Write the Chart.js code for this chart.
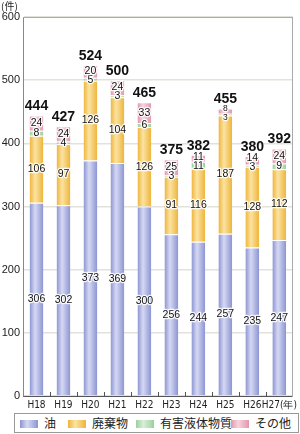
<!DOCTYPE html>
<html>
<head>
<meta charset="utf-8">
<script src="https://cdn.jsdelivr.net/npm/chart.js@4"></script>
<style>
  html, body { margin: 0; padding: 0; background: #fff; }
  #wrap { position: relative; width: 300px; height: 434px; }
  #chart-wrap { position: absolute; left: 0; top: 0; width: 300px; height: 412px; }
  #legend {
    position: absolute; left: 14px; top: 413px; width: 283px; height: 18px;
    border: 1px solid #999; box-sizing: content-box;
    font-family: "Noto Sans CJK JP", sans-serif; font-size: 12px; color: #222;
  }
  .item { position: absolute; top: 0; height: 18px; line-height: 18px; white-space: nowrap; }
  .sw { display: inline-block; width: 18px; height: 8px; vertical-align: middle; margin-right: 6px; margin-top: -2px; }
</style>
</head>
<body>
<div id="wrap">
  <div id="chart-wrap"><canvas id="chart"></canvas></div>
  <div id="legend"></div>
</div>
<script>
// === data ===
const years = ['H18', 'H19', 'H20', 'H21', 'H22', 'H23', 'H24', 'H25', 'H26', 'H27(年)'];
const oil = [306, 302, 373, 369, 300, 256, 244, 257, 235, 247];
const waste = [106, 97, 126, 104, 126, 91, 116, 187, 128, 112];
const hazardous = [8, 4, 5, 3, 6, 3, 11, 3, 3, 9];
const others = [24, 24, 20, 24, 33, 25, 11, 8, 14, 24];
const totals = [444, 427, 524, 500, 465, 375, 382, 455, 380, 392];
const yTicks = [0, 100, 200, 300, 400, 500, 600];

const seriesNames = ['油', '廃棄物', '有害液体物質', 'その他'];
// edge / light colours for the bar gradients
const palette = [
  ['#8b94d2', '#d6d9f3'],
  ['#eeb43a', '#fbe3a2'],
  ['#9bcf9d', '#daefda'],
  ['#e297ad', '#f7d4de'],
];
const BAR_PCT = 0.51;

function barGradient(idx) {
  return (c) => {
    const chart = c.chart;
    const [edge, light] = palette[idx];
    if (!chart.chartArea || c.dataIndex === undefined) return edge;
    const x = chart.scales.x;
    const cx = x.getPixelForValue(c.dataIndex);
    const w = (x.getPixelForValue(1) - x.getPixelForValue(0)) * BAR_PCT;
    const g = chart.ctx.createLinearGradient(cx - w / 2, 0, cx + w / 2, 0);
    g.addColorStop(0, edge);
    g.addColorStop(0.4, light);
    g.addColorStop(1, edge);
    return g;
  };
}

const values = [oil, waste, hazardous, others];

// inside tick marks + (件) caption
const decorPlugin = {
  id: 'decor',
  afterDraw(chart) {
    const ctx = chart.ctx;
    const area = chart.chartArea;
    const x = chart.scales.x;
    ctx.save();
    ctx.strokeStyle = '#555';
    ctx.lineWidth = 1;
    for (let i = 1; i < years.length; i++) {
      const px = Math.round((x.getPixelForValue(i - 1) + x.getPixelForValue(i)) / 2) + 0.5;
      ctx.beginPath();
      ctx.moveTo(px, area.bottom - 4);
      ctx.lineTo(px, area.bottom);
      ctx.stroke();
    }
    ctx.fillStyle = '#222';
    ctx.font = '10px "Noto Sans CJK JP"';
    ctx.textBaseline = 'middle';
    ctx.textAlign = 'left';
    ctx.fillText('(件)', 1, 6);
    ctx.restore();
  }
};

// values inside the segments and totals over the bars
const labelPlugin = {
  id: 'segLabels',
  afterDatasetsDraw(chart) {
    const ctx = chart.ctx;
    const metas = [0, 1, 2, 3].map(i => chart.getDatasetMeta(i));
    ctx.save();
    ctx.textAlign = 'center';
    ctx.textBaseline = 'middle';
    ctx.lineJoin = 'round';
    const draw = (txt, px, py, font) => {
      ctx.font = font;
      ctx.strokeStyle = 'rgba(255,255,255,0.9)';
      ctx.lineWidth = 2.5;
      ctx.strokeText(txt, px, py);
      ctx.fillStyle = '#111';
      ctx.fillText(txt, px, py);
    };
    years.forEach((_, i) => {
      const els = metas.map(m => m.data[i]);
      const px = els[0].x;
      const mid = els.map(e => (e.y + e.base) / 2);
      const small = Math.abs(els[3].base - els[3].y) < 6;
      const font = small ? '8.5px "Liberation Sans"' : '10.5px "Liberation Sans"';
      // spread the two thin top labels apart
      let yTop = mid[3], yBot = mid[2];
      const d = yBot - yTop;
      if (d < 9) { yTop -= (9 - d) / 2; yBot += (9 - d) / 2; }
      draw(String(oil[i]), px, mid[0], '10.5px "Liberation Sans"');
      draw(String(waste[i]), px, mid[1], '10.5px "Liberation Sans"');
      draw(String(hazardous[i]), px, yBot, font);
      draw(String(others[i]), px, yTop, font);
      ctx.font = 'bold 14px "Liberation Sans"';
      ctx.fillStyle = '#111';
      ctx.fillText(String(totals[i]), px, els[3].y - 9);
    });
    ctx.restore();
  }
};

new Chart(document.getElementById('chart'), {
  type: 'bar',
  data: {
    labels: years,
    datasets: values.map((v, i) => ({
      label: seriesNames[i],
      data: v,
      backgroundColor: barGradient(i),
      borderColor: '#fff',
      borderWidth: { top: 1, left: 0, right: 0, bottom: 0 },
      borderSkipped: false,
      categoryPercentage: 1,
      barPercentage: BAR_PCT,
    }))
  },
  options: {
    responsive: true,
    maintainAspectRatio: false,
    animation: false,
    layout: { padding: { top: 17, right: 2, left: 0, bottom: 0 } },
    plugins: { legend: { display: false }, tooltip: { enabled: false } },
    scales: {
      x: {
        stacked: true,
        grid: { display: false, drawTicks: false },
        border: { color: '#555', width: 1 },
        ticks: { color: '#222', font: { family: '"Liberation Sans Narrow", "DejaVu Sans Condensed", sans-serif', size: 10 }, padding: 3, maxRotation: 0, autoSkip: false },
        afterFit(s) { s.height = 16; },
      },
      y: {
        stacked: true,
        min: 0,
        max: 600,
        afterBuildTicks(s) { s.ticks = yTicks.map(v => ({ value: v })); },
        grid: { color: '#e2e2da', lineWidth: 1.5, drawTicks: false },
        border: { color: '#888', width: 1 },
        ticks: { color: '#222', font: { family: 'Liberation Sans', size: 11 }, padding: 3 },
        afterFit(s) { s.width = 23; },
      },
      y2: {
        position: 'right',
        min: 0, max: 600,
        grid: { display: false },
        border: { color: '#aaa', width: 1 },
        ticks: { display: false },
        afterFit(s) { s.width = 0; },
      },
    }
  },
  plugins: [decorPlugin, labelPlugin, {
    id: 'topBorder',
    afterDraw(chart) {
      const a = chart.chartArea, ctx = chart.ctx;
      ctx.save();
      ctx.strokeStyle = '#aaa';
      ctx.lineWidth = 1;
      ctx.beginPath();
      ctx.moveTo(a.left, Math.round(a.top) + 0.5);
      ctx.lineTo(a.right, Math.round(a.top) + 0.5);
      ctx.stroke();
      ctx.restore();
    }
  }]
});

// legend
const legend = document.getElementById('legend');
const legendX = [5, 53, 121, 216];
seriesNames.forEach((n, i) => {
  const d = document.createElement('div');
  d.className = 'item';
  d.style.left = legendX[i] + 'px';
  const [edge, light] = palette[i];
  d.innerHTML = `<span class="sw" style="background:linear-gradient(90deg, ${edge}, ${light} 40%, ${edge})"></span>${n}`;
  legend.appendChild(d);
});
</script>
</body>
</html>
